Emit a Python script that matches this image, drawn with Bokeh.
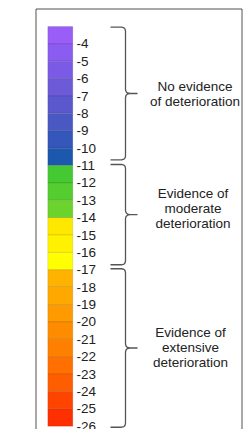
from bokeh.plotting import figure
from bokeh.models import Range1d, ColumnDataSource
from bokeh.core.properties import value
from bokeh.embed import file_html
from bokeh.resources import INLINE

# ---- data ----
tick_values = list(range(-4, -27, -1))
tick_labels = [str(v) for v in tick_values]
cell_tops = list(range(-3, -26, -1))
cell_bottoms = list(range(-4, -27, -1))
cell_colors = [
    "#9a5df7", "#8a5cf0", "#7b5be6", "#6c5ad9", "#5a58cc", "#4a58c4", "#3557bb", "#1c58ad",
    "#44c932", "#55cc30", "#6cd22c",
    "#ffe800", "#fff200", "#ffff00",
    "#ffb200", "#ffa800", "#ff9a00", "#ff8c00", "#ff7f00", "#ff7000", "#ff5e00", "#ff4400", "#ff3000",
]
group_names = ["No evidence\nof deterioration", "Evidence of\nmoderate\ndeterioration",
               "Evidence of\nextensive\ndeterioration"]
group_starts = [-3.04, -10.94, -16.94]
group_ends = [-10.67, -16.71, -26.06]

# ---- layout ----
W, H = 243, 429
cell_px = 17.378
bar_top_px = 26.0
top_val = cell_tops[0]
v_top = top_val + bar_top_px / cell_px
v_bot = top_val - (H - bar_top_px) / cell_px
k = 1.0 / cell_px  # one pixel in value units

p = figure(width=W, height=H, output_backend="svg", toolbar_location=None,
           x_range=Range1d(0, W), y_range=Range1d(v_bot, v_top),
           min_border=0, min_border_left=0, min_border_right=0,
           min_border_top=0, min_border_bottom=0)
p.axis.visible = False
p.grid.visible = False
p.outline_line_color = None
p.background_fill_color = "white"
p.border_fill_color = "white"

# frame (left, top, right edges; bottom runs off the page)
fy_top = v_top - 8.5 * k
p.line([35.5, 35.5, 241.5, 241.5], [v_bot - 1, fy_top, fy_top, v_bot - 1],
       line_color="#505050", line_width=1)

# colour bar cells
src = ColumnDataSource(dict(top=cell_tops, bottom=cell_bottoms, color=cell_colors))
p.quad(left=47.3, right=72.3, top="top", bottom="bottom", fill_color="color",
       line_color="black", line_alpha=0.10, line_width=1, source=src)

# tick labels
p.text(x=[76] * len(tick_values), y=tick_values, text=tick_labels,
       text_font=value("Liberation Sans"), text_font_size="13.5px",
       text_color="#222222", text_baseline="middle", text_align="left")

# brackets
bx0, bxv, bxt = 110.0, 125.0, 137.0
for t, b in zip(group_starts, group_ends):
    m = (t + b) / 2
    xs = [bx0, bxv - 4, bxv - 1.5, bxv - 0.4, bxv, bxv, bxv + 0.6, bxv + 2, bxv + 4.5, bxt,
          bxv + 4.5, bxv + 2, bxv + 0.6, bxv, bxv, bxv - 0.4, bxv - 1.5, bxv - 4, bx0]
    ys = [t, t, t - 0.7 * k, t - 2 * k, t - 4 * k, m + 4 * k, m + 1.8 * k, m + 0.6 * k, m, m,
          m, m - 0.6 * k, m - 1.8 * k, m - 4 * k, b + 4 * k, b + 2 * k, b + 0.7 * k, b, b]
    p.line(xs, ys, line_color="#555555", line_width=1.3)

# group descriptions
text_x = [194.5, 192.5, 190.0]
line_offsets = [[-6.5, 8.5], [-20.9, -5.9, 9.1], [-15.8, -0.8, 14.2]]
for name, t, b, cx, offs in zip(group_names, group_starts, group_ends, text_x, line_offsets):
    m = (t + b) / 2
    lines = name.split("\n")
    p.text(x=[cx] * len(lines), y=[m] * len(lines), text=lines, y_offset=offs,
           text_font=value("Liberation Sans"), text_font_size="13.5px",
           text_color="#222222", text_baseline="middle", text_align="center")

open("out.html", "w").write(file_html(p, INLINE))
